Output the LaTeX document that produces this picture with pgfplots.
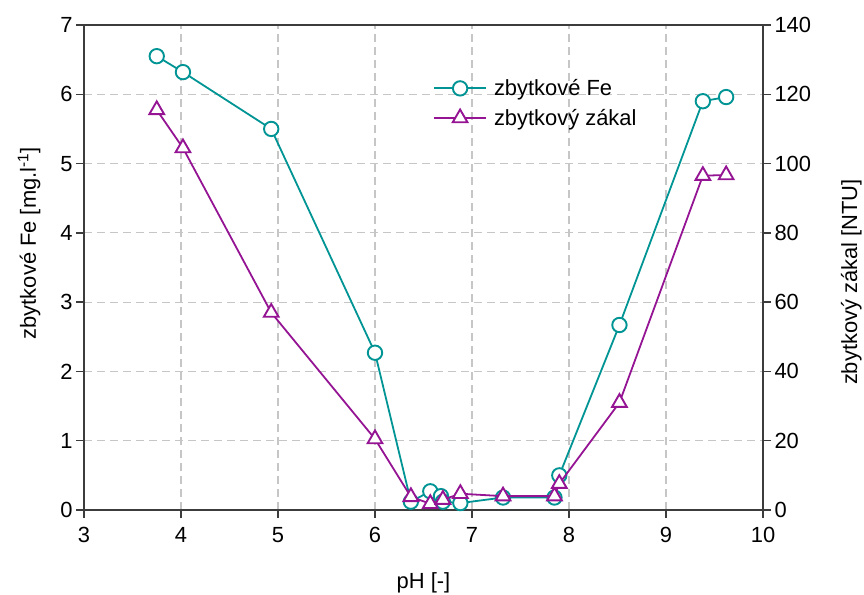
\documentclass[border=0pt]{standalone}
\usepackage{fontspec}
\setmainfont{Liberation Sans}
\usepackage{pgfplots}
\pgfplotsset{compat=1.18}
\definecolor{fecol}{RGB}{0,148,148}
\definecolor{zcol}{RGB}{148,20,148}
\definecolor{axcol}{RGB}{60,60,60}
\begin{document}
\begin{tikzpicture}
\pgfplotsset{
 every axis/.append style={
  scale only axis, width=679bp, height=485bp,
  xmin=3, xmax=10,
  font=\fontsize{22}{26}\selectfont,
  /pgf/number format/assume math mode=true,
  axis line style={axcol, line width=1.6pt},
  tick style={axcol, line width=1.3pt},
  major tick length=8bp,
  tick align=outside,
 },
 festyle/.style={fecol, line width=1.8pt, mark=*, mark size=7.2bp, mark options={fill=white, line width=1.9pt, solid}},
 zstyle/.style={zcol, line width=1.8pt, mark=triangle*, mark size=8.5bp, mark options={fill=white, line width=1.9pt, solid}},
}
\begin{axis}[
  ymin=0, ymax=7, ytick={0,...,7}, xtick={3,...,10},
  xtick pos=left, ytick pos=left,
  grid=major, grid style={dash pattern=on 8bp off 5bp, gray!45, line width=1.1pt},
  xticklabel style={yshift=-6bp},
  xlabel={pH [-]},
  xlabel style={at={(axis description cs:0.5,-0.1505)}, anchor=center},
  ylabel={zbytkové Fe [mg.l\textsuperscript{-1}]},
  ylabel style={at={(axis description cs:-0.081,0.55)}, anchor=center, rotate=0},
]
\addplot[festyle] coordinates {
(3.75,6.55) (4.02,6.32) (4.93,5.50) (6.00,2.27) (6.37,0.12) (6.57,0.27)
(6.68,0.20) (6.70,0.12) (6.88,0.10) (7.32,0.18) (7.85,0.18) (7.90,0.50)
(8.52,2.67) (9.38,5.90) (9.62,5.96)
};
\end{axis}
\begin{axis}[
  ymin=0, ymax=140, ytick={0,20,...,140},
  axis x line=none, axis y line*=right,
  ylabel={zbytkový zákal [NTU]},
  ylabel style={at={(axis description cs:1.13,0.47)}, anchor=center, rotate=0},
  legend cell align=left,
  legend style={draw=none, fill=none, inner sep=0pt, row sep=8bp,
    at={(axis description cs:0.514,0.892)}, anchor=north west,
    font=\fontsize{22}{26}\selectfont,
    nodes={inner xsep=7bp}},
  legend image code/.code={\draw[mark repeat=2,mark phase=2] plot coordinates {(0bp,0bp) (26bp,0bp) (52bp,0bp)};},
]
\addlegendimage{festyle}
\addlegendentry{zbytkové Fe}
\addplot[zstyle] coordinates {
(3.75,115.5) (4.02,104.5) (4.93,57.0) (6.00,20.5) (6.37,3.8) (6.57,1.8)
(6.70,3.0) (6.88,4.7) (7.32,4.0) (7.85,4.0) (7.90,7.6)
(8.52,31.0) (9.38,96.5) (9.62,96.7)
};
\addlegendentry{zbytkový zákal}
\end{axis}
\pgfresetboundingbox
\path ([xshift=-84bp,yshift=-85bp]current axis.south west) rectangle ([xshift=101bp,yshift=25bp]current axis.north east);
\end{tikzpicture}
\end{document}
